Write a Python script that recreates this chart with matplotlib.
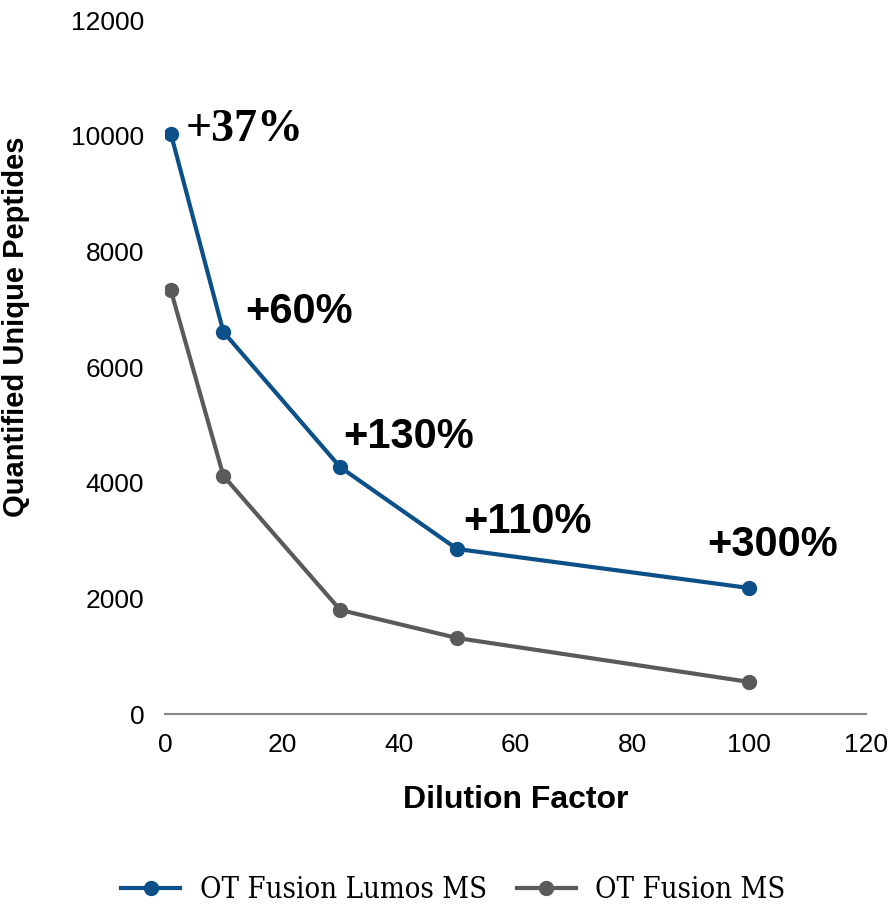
import matplotlib
matplotlib.use("Agg")
import matplotlib.pyplot as plt

# Dilution series
dilution = [1, 10, 30, 50, 100]
lumos_peptides = [10040, 6610, 4270, 2855, 2180]
fusion_peptides = [7330, 4120, 1800, 1315, 555]
gain_labels = ["+37%", "+60%", "+130%", "+110%", "+300%"]

x_ticks = [0, 20, 40, 60, 80, 100, 120]
y_ticks = [0, 2000, 4000, 6000, 8000, 10000, 12000]

blue = "#0b5089"
gray = "#5a5a5a"

fig = plt.figure(figsize=(8.9, 9.06), dpi=100)
ax = fig.add_axes([0.1854, 0.2119, 0.7876, 0.7656])

ax.plot(dilution, lumos_peptides, color=blue, lw=3, marker="o", ms=10,
        label="OT Fusion Lumos MS", zorder=3)
ax.plot(dilution, fusion_peptides, color=gray, lw=3, marker="o", ms=10,
        label="OT Fusion MS", zorder=3)

ax.set_xlim(0, 120)
ax.set_ylim(0, 12000)
ax.set_xticks(x_ticks)
ax.set_yticks(y_ticks)

for s in ["top", "right", "left"]:
    ax.spines[s].set_visible(False)
ax.spines["bottom"].set_color("#888888")
ax.spines["bottom"].set_linewidth(1.5)
ax.tick_params(length=0, labelsize=19)
for lab in ax.get_xticklabels() + ax.get_yticklabels():
    lab.set_family("Liberation Sans")
ax.tick_params(axis="y", pad=15)
ax.tick_params(axis="x", pad=14)

ax.set_xlabel("Dilution Factor", fontsize=23, fontweight="bold",
              family="Liberation Sans", labelpad=20)
ax.set_ylabel("Quantified Unique Peptides", fontsize=21, fontweight="bold",
              family="Liberation Sans")
ax.yaxis.set_label_coords(-0.193, 0.558)

# Gain labels next to each Lumos point (offsets in pixels)
offsets = [(15, 4), (22, 20), (3, 30), (6, 27), (-42, 43)]
for i, (x, y, txt) in enumerate(zip(dilution, lumos_peptides, gain_labels)):
    if i == 0:
        fam, size = "Liberation Serif", 33
    else:
        fam, size = "Liberation Sans", 30
    ax.annotate(txt, (x, y), xytext=offsets[i], textcoords="offset pixels",
                ha="left", va="center", fontsize=size, fontweight="bold",
                family=fam)

fig.legend(loc="center", bbox_to_anchor=(0.5096, 1 - 890 / 906), ncol=2,
           frameon=False,
           prop={"family": "DejaVu Serif", "stretch": "condensed", "size": 21},
           handlelength=2.0, columnspacing=1.05, handletextpad=0.68)

fig.savefig("out.png", dpi=100)
